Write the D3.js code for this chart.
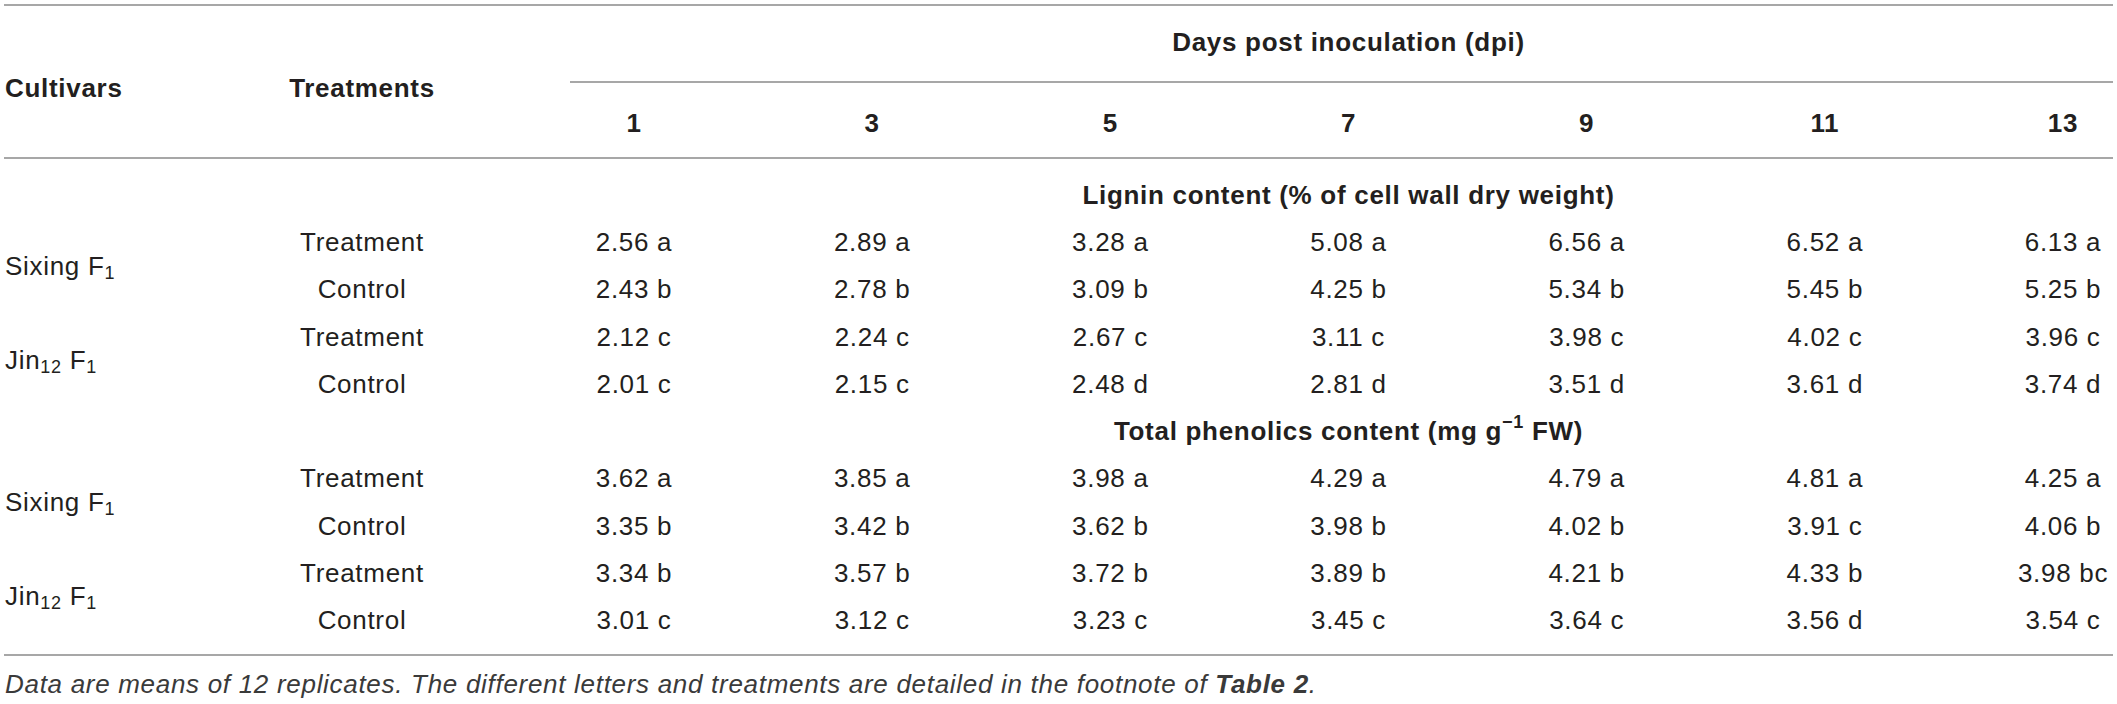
<!DOCTYPE html>
<html>
<head>
<meta charset="utf-8">
<script src="https://cdn.jsdelivr.net/npm/d3@7"></script>
<style>
  body { margin: 0; background: #fff; }
  text { font-family: "Helvetica Neue", Helvetica, "Liberation Sans", Arial, sans-serif; fill: #231f20; letter-spacing: 0.7px; }
</style>
</head>
<body>
<div id="chart"></div>
<script>
var days = ["1", "3", "5", "7", "9", "11", "13"];
var cultivars = ["Sixing", "Jin12"];
var treatments = ["Treatment", "Control"];

var ligninSixingTreatment = ["2.56 a", "2.89 a", "3.28 a", "5.08 a", "6.56 a", "6.52 a", "6.13 a"];
var ligninSixingControl   = ["2.43 b", "2.78 b", "3.09 b", "4.25 b", "5.34 b", "5.45 b", "5.25 b"];
var ligninJinTreatment    = ["2.12 c", "2.24 c", "2.67 c", "3.11 c", "3.98 c", "4.02 c", "3.96 c"];
var ligninJinControl      = ["2.01 c", "2.15 c", "2.48 d", "2.81 d", "3.51 d", "3.61 d", "3.74 d"];

var phenolSixingTreatment = ["3.62 a", "3.85 a", "3.98 a", "4.29 a", "4.79 a", "4.81 a", "4.25 a"];
var phenolSixingControl   = ["3.35 b", "3.42 b", "3.62 b", "3.98 b", "4.02 b", "3.91 c", "4.06 b"];
var phenolJinTreatment    = ["3.34 b", "3.57 b", "3.72 b", "3.89 b", "4.21 b", "4.33 b", "3.98 bc"];
var phenolJinControl      = ["3.01 c", "3.12 c", "3.23 c", "3.45 c", "3.64 c", "3.56 d", "3.54 c"];

var sections = [
  { key: "lignin", rows: [ligninSixingTreatment, ligninSixingControl, ligninJinTreatment, ligninJinControl] },
  { key: "phenol", rows: [phenolSixingTreatment, phenolSixingControl, phenolJinTreatment, phenolJinControl] }
];

var width = 2117, height = 704;
var fontSize = 26;
var lineColor = "#8a8a8a";

var svg = d3.select("#chart").append("svg")
    .attr("width", width)
    .attr("height", height);

// columns and rows
var x = d3.scalePoint().domain(days).range([634, 2063]);
var items = [];
sections.forEach(function(s) {
  items.push(s.key + "-head");
  s.rows.forEach(function(r, i) { items.push(s.key + "-" + i); });
});
var y = d3.scalePoint().domain(items).range([195, 620]);

function hline(x1, x2, yy) {
  svg.append("line")
      .attr("x1", x1).attr("x2", x2)
      .attr("y1", yy).attr("y2", yy)
      .style("stroke", lineColor)
      .style("stroke-width", 1.6);
}

hline(4, 2113, 5);
hline(570, 2113, 82);
hline(4, 2113, 158);
hline(4, 2113, 655);

// header
svg.append("text")
    .attr("x", 5).attr("y", 88)
    .attr("dominant-baseline", "central")
    .style("font-size", fontSize + "px")
    .style("font-weight", "bold")
    .text("Cultivars");

svg.append("text")
    .attr("x", 362).attr("y", 88)
    .attr("text-anchor", "middle")
    .attr("dominant-baseline", "central")
    .style("font-size", fontSize + "px")
    .style("font-weight", "bold")
    .text("Treatments");

svg.append("text")
    .attr("x", (x("1") + x("13")) / 2).attr("y", 42)
    .attr("text-anchor", "middle")
    .attr("dominant-baseline", "central")
    .style("font-size", fontSize + "px")
    .style("font-weight", "bold")
    .text("Days post inoculation (dpi)");

svg.selectAll(".day")
    .data(days)
    .enter().append("text")
    .attr("class", "day")
    .attr("x", function(d) { return x(d); })
    .attr("y", 123)
    .attr("text-anchor", "middle")
    .attr("dominant-baseline", "central")
    .style("font-size", fontSize + "px")
    .style("font-weight", "bold")
    .text(function(d) { return d; });

// section headings
var midX = (x("1") + x("13")) / 2;
svg.append("text")
    .attr("x", midX).attr("y", y("lignin-head"))
    .attr("text-anchor", "middle")
    .attr("dominant-baseline", "central")
    .style("font-size", fontSize + "px")
    .style("font-weight", "bold")
    .text("Lignin content (% of cell wall dry weight)");

var ph = svg.append("text")
    .attr("x", midX).attr("y", y("phenol-head"))
    .attr("text-anchor", "middle")
    .attr("dominant-baseline", "central")
    .style("font-size", fontSize + "px")
    .style("font-weight", "bold");
ph.append("tspan").text("Total phenolics content (mg g");
ph.append("tspan").attr("dy", -9).style("font-size", "18px").text("\u22121");
ph.append("tspan").attr("dy", 9).text(" FW)");

// cultivar labels with subscripts
function cultivarLabel(name, yy) {
  var t = svg.append("text")
      .attr("x", 5).attr("y", yy)
      .attr("dominant-baseline", "central")
      .style("font-size", fontSize + "px");
  if (name === "Jin12") {
    t.append("tspan").text("Jin");
    t.append("tspan").attr("dy", 7).style("font-size", "18px").text("12");
    t.append("tspan").attr("dy", -7).text(" F");
  } else {
    t.append("tspan").text(name + " F");
  }
  t.append("tspan").attr("dy", 7).style("font-size", "18px").text("1");
}

sections.forEach(function(s) {
  cultivars.forEach(function(c, ci) {
    var y1 = y(s.key + "-" + (ci * 2)), y2 = y(s.key + "-" + (ci * 2 + 1));
    cultivarLabel(c, (y1 + y2) / 2);
  });

  s.rows.forEach(function(row, ri) {
    var yy = y(s.key + "-" + ri);
    svg.append("text")
        .attr("x", 362).attr("y", yy)
        .attr("text-anchor", "middle")
        .attr("dominant-baseline", "central")
        .style("font-size", fontSize + "px")
        .text(treatments[ri % 2]);

    svg.selectAll(".v-" + s.key + ri)
        .data(row)
        .enter().append("text")
        .attr("class", "v-" + s.key + ri)
        .attr("x", function(d, i) { return x(days[i]); })
        .attr("y", yy)
        .attr("text-anchor", "middle")
        .attr("dominant-baseline", "central")
        .style("font-size", fontSize + "px")
        .text(function(d) { return d; });
  });
});

// footnote
var fn = svg.append("text")
    .attr("x", 5).attr("y", 684)
    .attr("dominant-baseline", "central")
    .style("font-size", fontSize + "px")
    .style("font-style", "italic")
    .style("fill", "#3a3a3a");
fn.append("tspan").text("Data are means of 12 replicates. The different letters and treatments are detailed in the footnote of ");
fn.append("tspan").style("font-weight", "bold").text("Table 2");
fn.append("tspan").text(".");
</script>
</body>
</html>
